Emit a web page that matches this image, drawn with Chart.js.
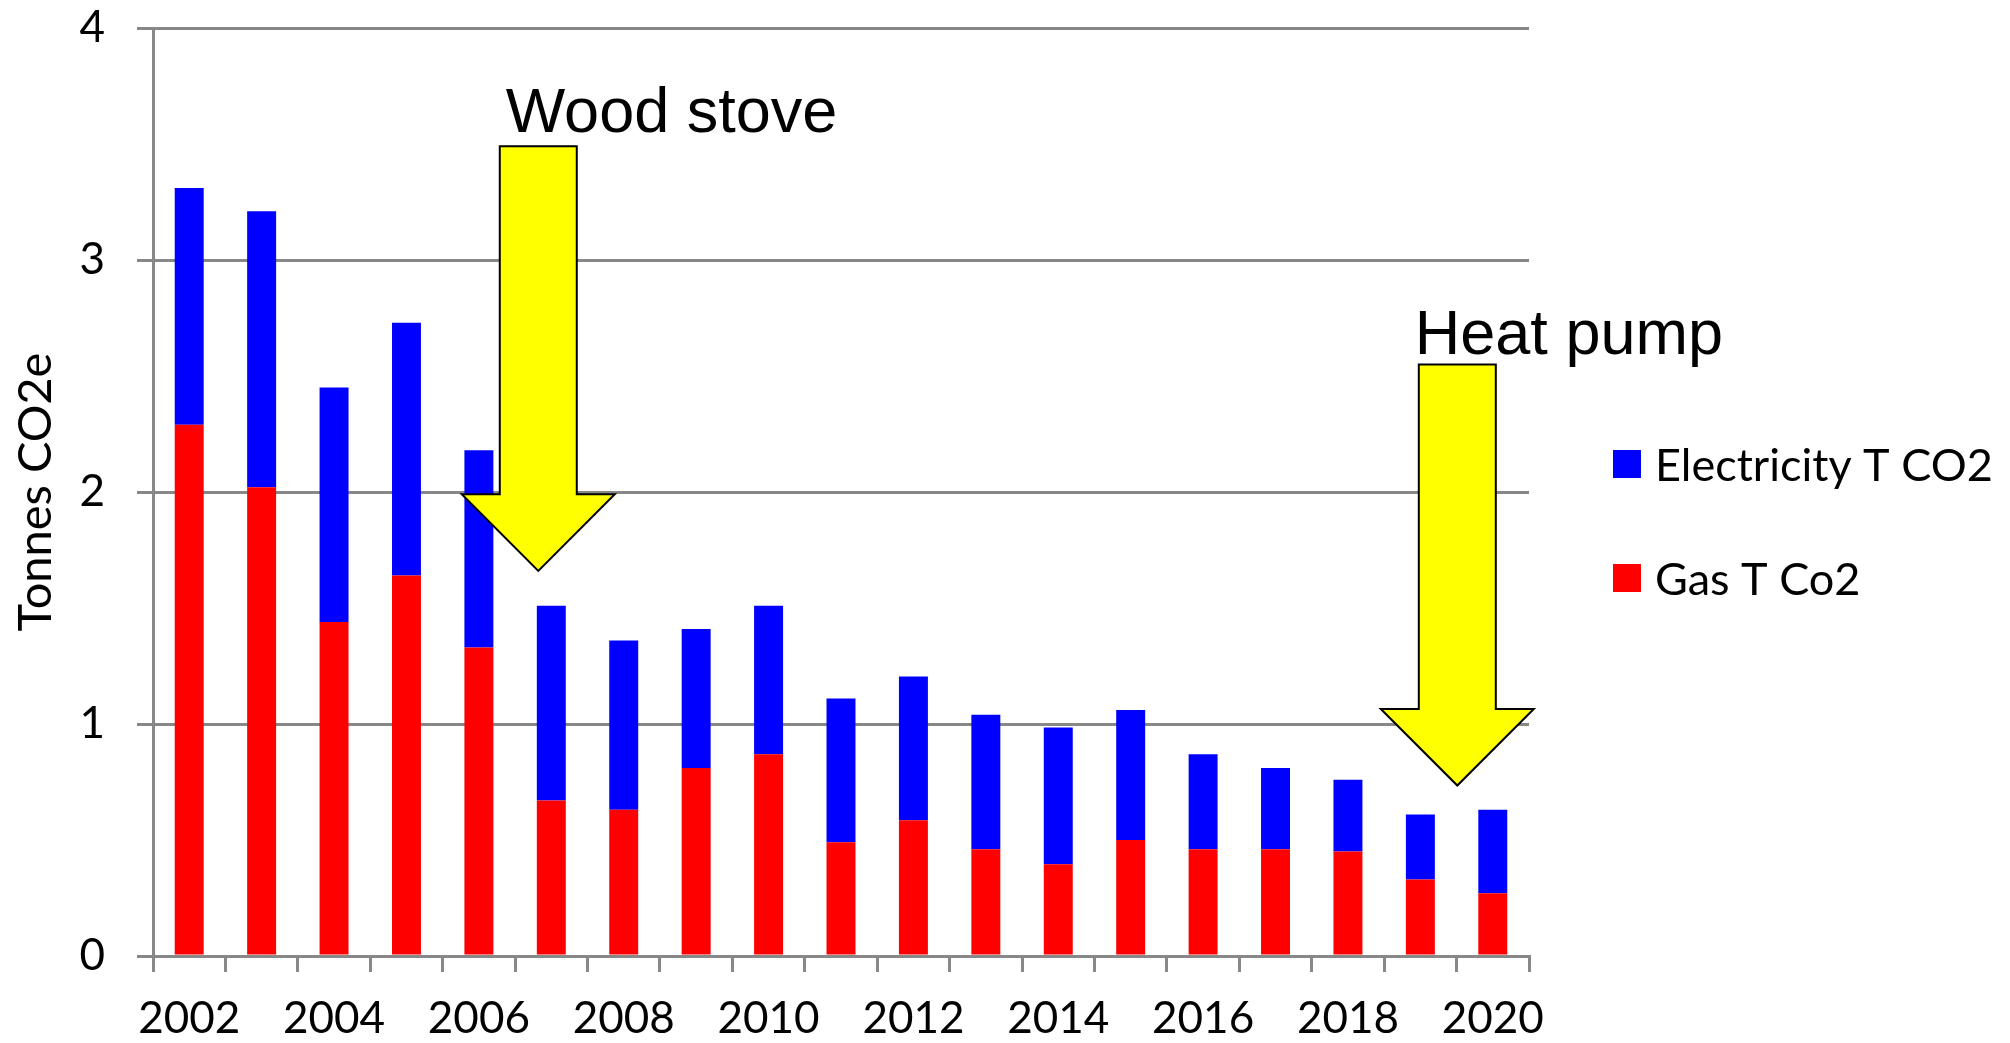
<!DOCTYPE html>
<html>
<head>
<meta charset="utf-8">
<title>Tonnes CO2e</title>
<script src="https://cdn.jsdelivr.net/npm/chart.js@4.4.1/dist/chart.umd.min.js"></script>
<style>
  html, body { margin: 0; padding: 0; background: #fff; }
  #wrap { width: 2010px; height: 1043px; }
</style>
</head>
<body>
<div id="wrap"><canvas id="chart" width="2010" height="1043"></canvas></div>
<script>
// ---------- Data -------------------------------------------------------
const years = ["2002", "2003", "2004", "2005", "2006", "2007", "2008", "2009", "2010", "2011",
               "2012", "2013", "2014", "2015", "2016", "2017", "2018", "2019", "2020"];
const gasT  = [2.29, 2.02, 1.44, 1.64, 1.33, 0.67, 0.63, 0.81, 0.87, 0.49,
               0.585, 0.46, 0.395, 0.50, 0.46, 0.46, 0.45, 0.33, 0.27];
const elecT = [1.02, 1.19, 1.01, 1.09, 0.85, 0.84, 0.73, 0.60, 0.64, 0.62,
               0.62, 0.58, 0.59, 0.56, 0.41, 0.35, 0.31, 0.28, 0.36];
const yMin = 0, yMax = 4, yStep = 1;

// arrow notes: category position, shaft top, head base and tip in tonnes
const noteLabels = ["Wood stove", "Heat pump"];
const noteAt     = [4.82, 17.51];
const noteTop    = [3.49, 2.55];
const noteHead   = [1.99, 1.065];
const noteTip    = [1.66, 0.735];

const GRID = "#888888";
const TICK_FONT = { family: "Lato", size: 44 };

// ---------- Plugins ----------------------------------------------------
const arrowNotes = {
  id: "arrowNotes",
  afterDatasetsDraw(chart) {
    const { ctx, scales: { x, y } } = chart;
    const shaft = 77, head = 153;
    ctx.save();
    noteLabels.forEach((label, i) => {
      const cx = x.getPixelForValue(noteAt[i]);
      const top = y.getPixelForValue(noteTop[i]);
      const base = y.getPixelForValue(noteHead[i]);
      const tip = y.getPixelForValue(noteTip[i]);
      ctx.beginPath();
      ctx.moveTo(cx - shaft / 2, top);
      ctx.lineTo(cx + shaft / 2, top);
      ctx.lineTo(cx + shaft / 2, base);
      ctx.lineTo(cx + head / 2, base);
      ctx.lineTo(cx, tip);
      ctx.lineTo(cx - head / 2, base);
      ctx.lineTo(cx - shaft / 2, base);
      ctx.closePath();
      ctx.fillStyle = "#ffff00";
      ctx.fill();
      ctx.lineWidth = 2;
      ctx.strokeStyle = "#000";
      ctx.stroke();

      ctx.fillStyle = "#000";
      ctx.font = "63px 'Liberation Sans', Arial, sans-serif";
      ctx.textAlign = "left";
      ctx.textBaseline = "alphabetic";
      // wood stove label sits a bit right of its shaft, heat pump flush
      ctx.fillText(label, cx - shaft / 2 + (i === 0 ? 6 : -4), top - (i === 0 ? 14 : 10));
    });
    ctx.restore();
  },
};

const sideLegend = {
  id: "sideLegend",
  afterDraw(chart) {
    const { ctx, chartArea } = chart;
    const sets = chart.data.datasets.slice().reverse();
    ctx.save();
    ctx.font = "45px Lato";
    ctx.textBaseline = "middle";
    ctx.textAlign = "left";
    sets.forEach((ds, i) => {
      const cy = 464 + i * 114;
      const bx = chartArea.right + 84;
      ctx.fillStyle = ds.backgroundColor;
      ctx.fillRect(bx, cy - 14, 28, 28);
      ctx.fillStyle = "#000";
      ctx.fillText(ds.label, bx + 42, cy + 2);
    });
    ctx.restore();
  },
};

// ---------- Chart ------------------------------------------------------
new Chart(document.getElementById("chart"), {
  type: "bar",
  data: {
    labels: years,
    datasets: [
      { label: "Gas T Co2", data: gasT, backgroundColor: "#ff0000" },
      { label: "Electricity T CO2", data: elecT, backgroundColor: "#0000ff" },
    ],
  },
  options: {
    responsive: false,
    animation: false,
    devicePixelRatio: 1,
    layout: { padding: { left: 0, right: 481, top: 28, bottom: 0 } },
    datasets: { bar: { categoryPercentage: 1, barPercentage: 0.4, borderWidth: 0 } },
    plugins: { legend: { display: false }, tooltip: { enabled: false } },
    scales: {
      x: {
        stacked: true,
        grid: { offset: true, drawOnChartArea: false, color: GRID, lineWidth: 3, tickLength: 16 },
        border: { color: GRID, width: 3 },
        ticks: {
          autoSkip: false, maxRotation: 0, color: "#000", font: TICK_FONT, padding: 20,
          callback: (v, i) => (i % 2 === 0 ? years[i] : ""),
        },
        afterFit: s => { s.height = 87; s.paddingLeft = 0; s.paddingRight = 0; },
      },
      y: {
        stacked: true,
        min: yMin, max: yMax,
        grid: { color: GRID, lineWidth: 3, tickLength: 16 },
        border: { color: GRID, width: 3 },
        ticks: { stepSize: yStep, color: "#000", font: TICK_FONT, padding: 32 },
        title: { display: true, text: "Tonnes CO2e", color: "#000", font: { family: "Lato", size: 47 }, padding: 8 },
        afterFit: s => { s.width = 153; s.paddingTop = 0; s.paddingBottom = 0; },
      },
    },
  },
  plugins: [arrowNotes, sideLegend],
});
</script>
</body>
</html>
